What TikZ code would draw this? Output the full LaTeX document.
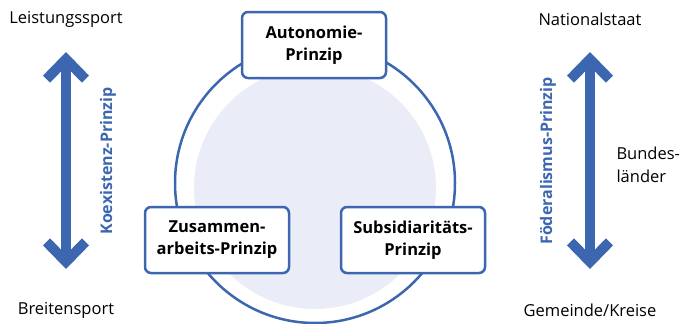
\documentclass[tikz,border=0pt]{standalone}
\usepackage{fontspec}
\setmainfont{Open Sans}
\usepackage{tikz}
\usetikzlibrary{arrows.meta}
\definecolor{prblue}{HTML}{3C67B0}
\definecolor{prfill}{HTML}{EAEDF7}

\begin{document}
\begin{tikzpicture}[x=1pt,y=-1pt,
  prinzip/.style={rectangle,rounded corners=6pt,draw=prblue,line width=2.5pt,fill=white,
    minimum width=144pt,minimum height=66pt,align=center,font=\fontsize{16.5}{22}\selectfont\bfseries},
  ebene/.style={font=\fontsize{16.5}{23}\selectfont},
  achse/.style={rotate=90,text=prblue,font=\fontsize{16}{18}\selectfont\bfseries},
  bigarrow/.style={draw=prblue,line width=10pt,
    {Straight Barb[length=20pt,width=39pt,line width=10pt]}-{Straight Barb[length=20pt,width=39pt,line width=10pt]}}]
\useasboundingbox (0,0) rectangle (683,324);

% kreis
\fill[prfill] (315,188) circle (121pt);
\draw[prblue,line width=2.5pt] (315,183) circle (140pt);

\node[prinzip] (auto) at (314,45) {Autonomie-\\Prinzip};
\node[prinzip] (zus) at (217,240) {Zusammen-\\arbeits-Prinzip};
\node[prinzip] (sub) at (413,240) {Subsidiaritäts-\\Prinzip};

% links
\node[ebene] (lsport) at (66,19) {Leistungssport};
\node[ebene] (bsport) at (66,310) {Breitensport};
\coordinate (ltop) at (66,52);
\coordinate (lbot) at (66,269);
\draw[bigarrow] (ltop) -- (lbot);
\node[achse] (koex) at (108,161) {Koexistenz-Prinzip};

% rechts
\node[ebene] (nstaat) at (590,19) {Nationalstaat};
\node[ebene] (gemeinde) at (590,310) {Gemeinde/Kreise};
\coordinate (rtop) at (590,52);
\coordinate (rbot) at (590,269);
\draw[bigarrow] (rtop) -- (rbot);
\node[achse] (foed) at (548,161) {Föderalismus-Prinzip};
\node[ebene,anchor=west,align=left] (bland) at (613,165) {Bundes-\\länder};

\end{tikzpicture}
\end{document}
